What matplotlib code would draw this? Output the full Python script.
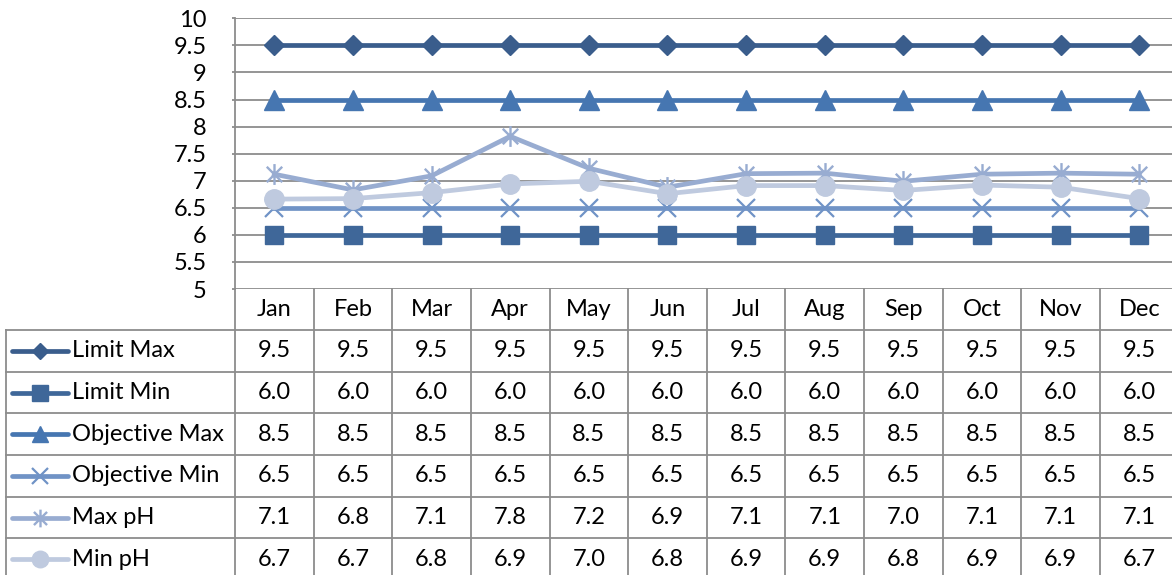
import numpy as np
import matplotlib
matplotlib.use("Agg")
import matplotlib.pyplot as plt
from matplotlib.path import Path

plt.rcParams['font.family'] = ['Lato', 'DejaVu Sans']

# data
months = ['Jan', 'Feb', 'Mar', 'Apr', 'May', 'Jun', 'Jul', 'Aug', 'Sep', 'Oct', 'Nov', 'Dec']
limit_max = [9.5] * 12
limit_min = [6.0] * 12
objective_max = [8.5] * 12
objective_min = [6.5] * 12
max_ph = [7.12, 6.83, 7.09, 7.82, 7.23, 6.88, 7.13, 7.14, 6.99, 7.12, 7.14, 7.12]
min_ph = [6.66, 6.67, 6.78, 6.94, 6.99, 6.76, 6.91, 6.91, 6.82, 6.92, 6.88, 6.67]
y_ticks = [5, 5.5, 6, 6.5, 7, 7.5, 8, 8.5, 9, 9.5, 10]

# excel style asterisk marker (x plus vertical bar)
star = Path([(-1, -1), (1, 1), (-1, 1), (1, -1), (0, -1.35), (0, 1.35)],
            [Path.MOVETO, Path.LINETO, Path.MOVETO, Path.LINETO, Path.MOVETO, Path.LINETO])

series = [
    ('Limit Max', limit_max, '#3A5D8C', dict(marker='D', ms=10)),
    ('Limit Min', limit_min, '#3F6799', dict(marker='s', ms=13)),
    ('Objective Max', objective_max, '#4676B1', dict(marker='^', ms=14)),
    ('Objective Min', objective_min, '#7093C6', dict(marker='x', ms=13, mew=1.6)),
    ('Max pH', max_ph, '#98ACD1', dict(marker=star, ms=15, mew=1.7)),
    ('Min pH', min_ph, '#BFCADF', dict(marker='o', ms=14)),
]

W, H = 1172, 575
fig = plt.figure(figsize=(W / 100, H / 100), dpi=100)

grid_c = '#8C8C8C'

# pixel geometry
x0, x1 = 235, 1178.6   # plot area left/right
y_top, y_bot = 18.3, 289
rows = [289, 330, 371.7, 413.3, 455, 496.7, 538.3, 580]

# overlay axes for the data table, in pixel coords
tab = fig.add_axes([0, 0, 1, 1])
tab.set_xlim(0, W)
tab.set_ylim(H, 0)
tab.axis('off')

ax = fig.add_axes([x0 / W, 1 - y_bot / H, (x1 - x0) / W, (y_bot - y_top) / H])
ax.patch.set_alpha(0)
ax.set_xlim(-0.5, 11.5)
ax.set_ylim(5, 10)
ax.set_yticks(y_ticks)
ax.set_yticklabels(['%g' % t for t in y_ticks])
ax.set_xticks([])
ax.grid(axis='y', color=grid_c, lw=1.3)
ax.set_axisbelow(True)
for s in ['top', 'right', 'bottom']:
    ax.spines[s].set_visible(False)
ax.spines['left'].set_color(grid_c)
ax.spines['left'].set_linewidth(1.3)
ax.tick_params(axis='y', length=2.5, width=1.3, color=grid_c, pad=18, labelsize=17)

x = np.arange(len(months))
for i, (name, vals, col, mk) in enumerate(series):
    ax.plot(x, vals, color=col, lw=3.4, mfc=col, mec=col, zorder=3 + i, clip_on=False, **mk)

# table grid
col_w = (x1 - x0) / 12
for k in range(13):
    xx = x0 + k * col_w
    tab.plot([xx, xx], [rows[0], H + 5], color=grid_c, lw=1.3)
tab.plot([6, 6], [rows[1], H + 5], color=grid_c, lw=1.3)
for r in rows[1:]:
    tab.plot([6, x1], [r, r], color=grid_c, lw=1.3)

fs = 17
for j, m in enumerate(months):
    tab.text(x0 + (j + 0.5) * col_w, (rows[0] + rows[1]) / 2, m, ha='center', va='center', fontsize=fs)

for i, (name, vals, col, mk) in enumerate(series):
    yc = (rows[i + 1] + rows[i + 2]) / 2
    tab.plot([12, 68], [yc, yc], color=col, lw=3.4, solid_capstyle='round')
    mk_small = dict(mk)
    mk_small['ms'] = mk['ms'] * 0.85
    tab.plot([40], [yc], color=col, mfc=col, mec=col, **mk_small)
    tab.text(72, yc, name, ha='left', va='center', fontsize=fs)
    for j, v in enumerate(vals):
        tab.text(x0 + (j + 0.5) * col_w, yc, '%.1f' % v, ha='center', va='center', fontsize=fs)

fig.savefig('out.png', dpi=100)
